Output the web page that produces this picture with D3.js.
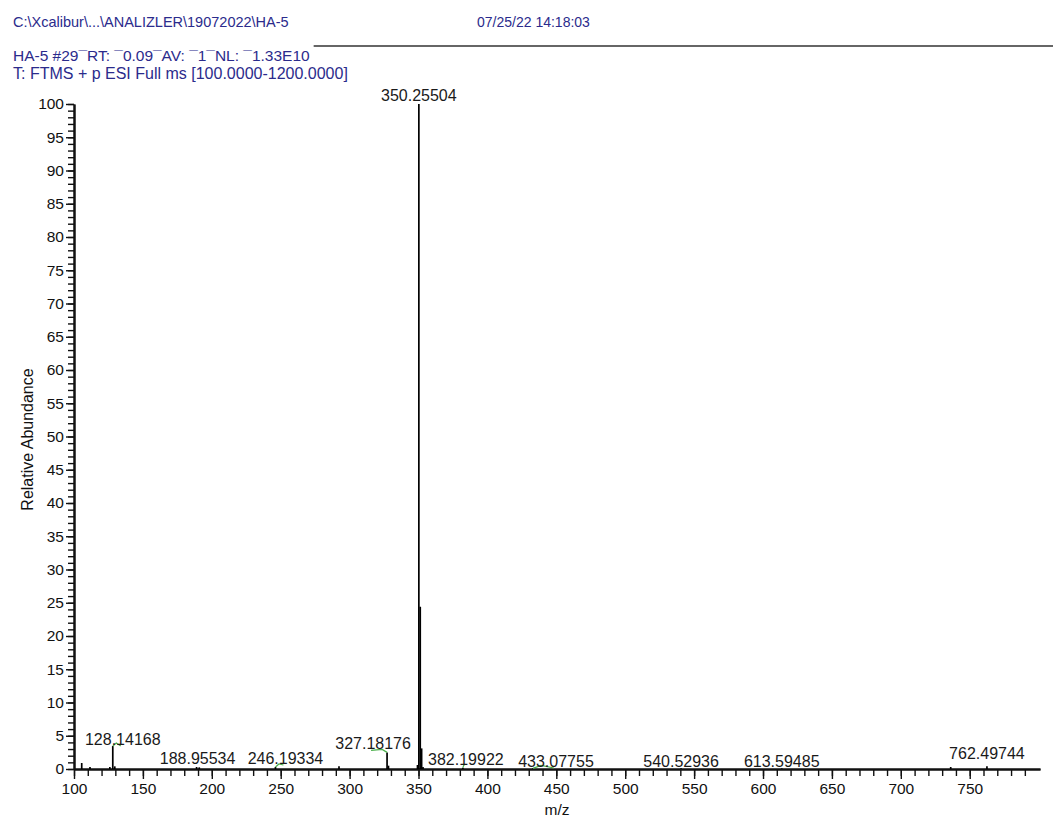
<!DOCTYPE html>
<html><head><meta charset="utf-8">
<script src="https://cdn.jsdelivr.net/npm/d3@7"></script>
<style>
body{margin:0;background:#fff}
text{font-family:"Liberation Sans",Arial,sans-serif}
</style>
</head><body>
<svg id="chart" width="1053" height="819"></svg>
<script>
// ---- data ----
const peakMz  = [105.6, 111.6, 126.0, 128.14168, 129.6, 188.95534, 190.9, 246.19334, 292.3, 327.18176, 328.2, 349.25, 350.25504, 351.258, 352.262, 353.26, 382.19922, 433.07755, 540.52936, 613.59485, 736.2, 762.49744];
const peakInt = [0.9,   0.3,   0.3,   3.45,      0.4,   0.3,       0.25,  0.3,       0.4,   2.5,       0.5,   0.6,    100,       24.4,    3.1,     0.3,    0.2,       0.1,       0.1,       0.1,       0.3,   0.4];
const labelMz = [128.14168, 188.95534, 246.19334, 327.18176, 350.25504, 382.19922, 433.07755, 540.52936, 613.59485, 762.49744];
// layout nudges for annotation placement (pixels)
const labelDx = [10, 1, 10, -14, 0, 3, 23, 0, 0, 0];
const labelDy = [2, 0, 0, 0, 0, 1, 3, 3, 3, -4];
const xMajorTicks = d3.range(100, 751, 50);
const xMinorTicks = d3.range(100, 791, 10);
const yMajorTicks = d3.range(0, 101, 5);
const yMinorTicks = d3.range(0, 101, 1);
const headerPath = "C:\\Xcalibur\\...\\ANALIZLER\\19072022\\HA-5";
const headerDate = "07/25/22 14:18:03";
const headerScan = "HA-5 #29\u00AFRT:\u00A0\u00AF0.09\u00AFAV:\u00A0\u00AF1\u00AFNL:\u00A0\u00AF1.33E10";
const headerFilter = "T: FTMS + p ESI Full ms [100.0000-1200.0000]";

// ---- drawing ----
const svg = d3.select("#chart");
const navy = "#2b2b8c";
const x = d3.scaleLinear().domain([100, 801]).range([74, 1040]);
const y = d3.scaleLinear().domain([0, 100]).range([769, 104]);

// header
svg.append("text").attr("x", 13).attr("y", 27).attr("font-size", 14.5).attr("fill", navy).text(headerPath);
svg.append("text").attr("x", 477).attr("y", 27).attr("font-size", 14).attr("fill", navy).text(headerDate);
const scanT = svg.append("text").attr("x", 13).attr("y", 61).attr("font-size", 15.5).attr("fill", navy).text(headerScan);
svg.append("text").attr("x", 13).attr("y", 79).attr("font-size", 16).attr("fill", navy).text(headerFilter);
const scanEnd = 13 + scanT.node().getComputedTextLength();
svg.append("line").attr("x1", scanEnd + 4).attr("x2", 1053).attr("y1", 46).attr("y2", 46)
  .attr("stroke", "#333").attr("stroke-width", 1.5);

// axes
function styleAxis(g){
  g.selectAll("path.domain").attr("stroke", "#111").attr("stroke-width", 2);
  g.selectAll(".tick line").attr("stroke", "#111").attr("stroke-width", 1.4);
  g.selectAll("text").attr("font-family", "'Liberation Sans',Arial,sans-serif").attr("font-size", 15.5).attr("fill", "#111");
}
svg.append("g").attr("transform", `translate(0,${y(0)})`)
  .call(d3.axisBottom(x).tickValues(xMinorTicks).tickSize(7).tickSizeOuter(0).tickFormat(""))
  .call(styleAxis);
svg.append("g").attr("transform", `translate(0,${y(0)})`)
  .call(d3.axisBottom(x).tickValues(xMajorTicks).tickSize(10).tickSizeOuter(0).tickPadding(4).tickFormat(d3.format("d")))
  .call(styleAxis);
svg.append("g").attr("transform", `translate(${x(100)},0)`)
  .call(d3.axisLeft(y).tickValues(yMinorTicks).tickSize(6).tickSizeOuter(0).tickFormat(""))
  .call(styleAxis);
svg.append("g").attr("transform", `translate(${x(100)},0)`)
  .call(d3.axisLeft(y).tickValues(yMajorTicks).tickSize(8).tickSizeOuter(0).tickPadding(2).tickFormat(d3.format("d")))
  .call(styleAxis);

// axis titles
svg.append("text").attr("x", (x.range()[0] + x.range()[1]) / 2).attr("y", 815)
  .attr("text-anchor", "middle").attr("font-size", 15.5).attr("fill", "#111").text("m/z");
svg.append("text").attr("transform", `translate(33,${(y(0) + y(100)) / 2 + 3}) rotate(-90)`)
  .attr("text-anchor", "middle").attr("font-size", 16).attr("fill", "#111").text("Relative Abundance");

// peaks
const peaks = peakMz.map((m, i) => ({mz: m, v: peakInt[i]}));
svg.append("g").selectAll("line").data(peaks).join("line")
  .attr("x1", d => x(d.mz)).attr("x2", d => x(d.mz))
  .attr("y1", y(0)).attr("y2", d => y(d.v))
  .attr("stroke", "#000").attr("stroke-width", 1.7);

// labels
const labels = labelMz.map((m, i) => {
  const v = peakInt[peakMz.indexOf(m)];
  const px = x(m), py = y(v);
  const base = Math.min(py - 3, 764) + labelDy[i];
  return {mz: m, v, px, py, lx: px + labelDx[i], ly: base, moved: Math.abs(labelDx[i]) > 2};
});
svg.append("g").selectAll("path").data(labels.filter(d => d.moved)).join("path")
  .attr("d", d => `M${d.px},${d.py}L${d.px + (d.lx - d.px) * 0.35},${d.py - 3}L${d.lx - 2},${d.ly + 1}`)
  .attr("fill", "none").attr("stroke", "#4cb04c").attr("stroke-width", 1.2);
svg.append("g").selectAll("text").data(labels).join("text")
  .attr("x", d => d.lx).attr("y", d => d.ly)
  .attr("text-anchor", "middle").attr("font-size", 16).attr("fill", "#1a1a1a")
  .text(d => d3.format(".5f")(d.mz));
</script>
</body></html>
